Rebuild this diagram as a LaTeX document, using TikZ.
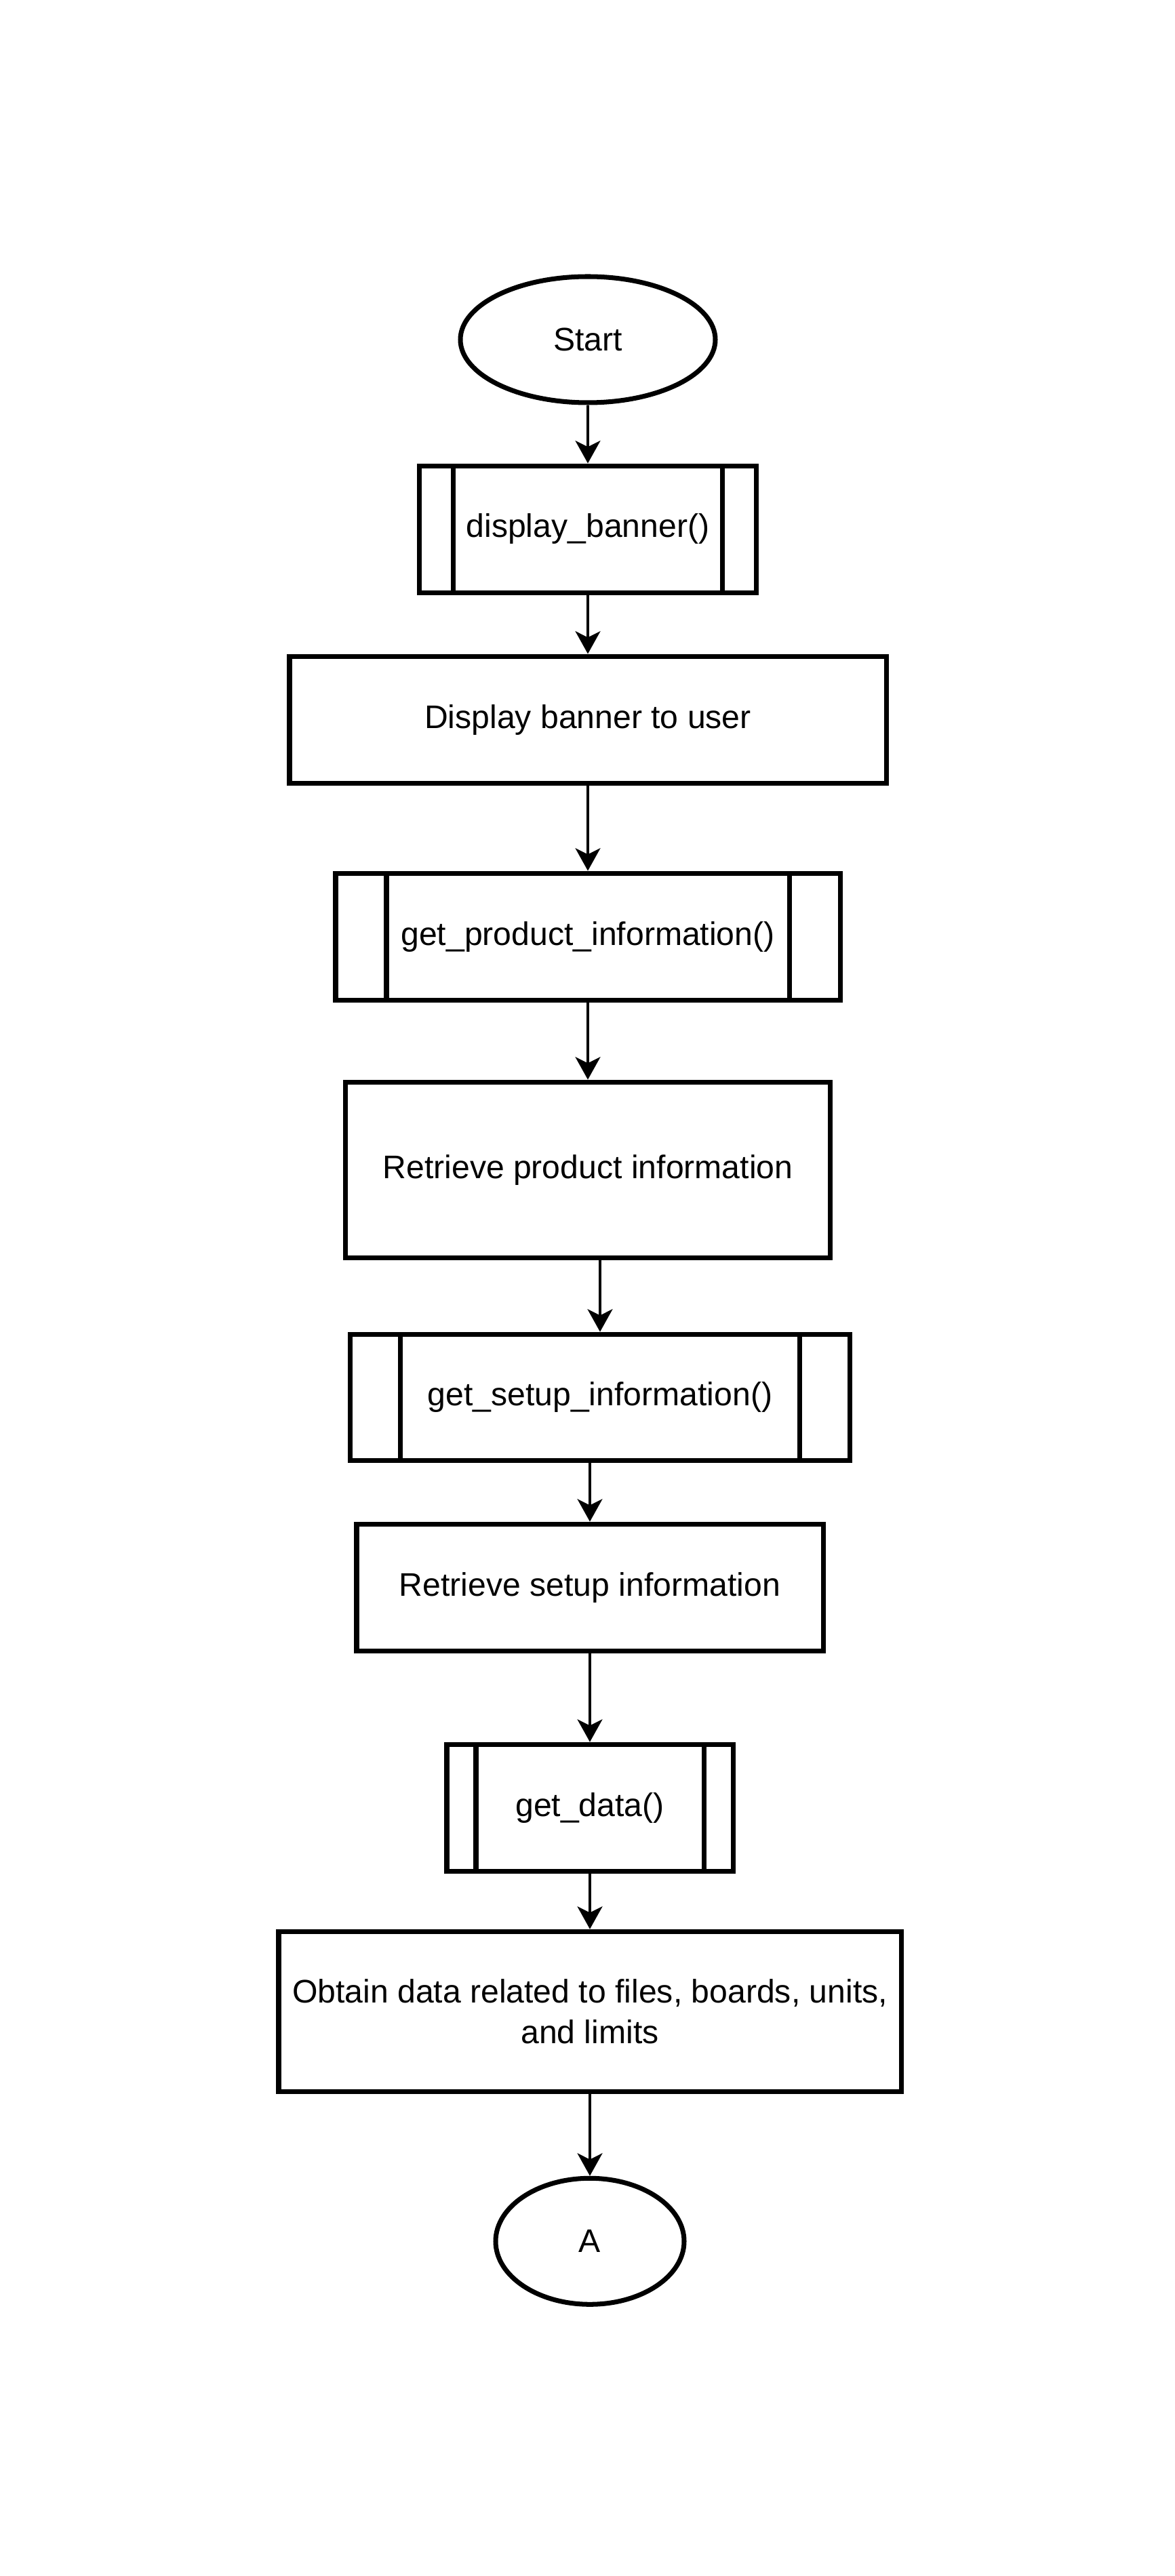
\documentclass[tikz,border=0pt]{standalone}
\usepackage{fontspec}
\setmainfont{Liberation Sans}
\usepackage{tikz}
\usetikzlibrary{shapes.geometric, arrows.meta, positioning, calc}
\tikzstyle{termbox}  = [ellipse, draw=black, line width=2pt, fill=white,
                        minimum width=3.76cm, minimum height=1.86cm,
                        inner sep=0pt, text centered,
                        font=\fontsize{13.7pt}{17pt}\selectfont]
\tikzstyle{procbox}  = [rectangle, draw=black, line width=2pt, fill=white,
                        minimum height=1.87cm, inner sep=0pt, text centered,
                        align=center, font=\fontsize{13.7pt}{17pt}\selectfont]
\tikzstyle{subproc}  = [procbox, path picture={
                          \draw[line width=2pt]
                            ([xshift=#1]path picture bounding box.north west) --
                            ([xshift=#1]path picture bounding box.south west)
                            ([xshift=-#1]path picture bounding box.north east) --
                            ([xshift=-#1]path picture bounding box.south east);}]
\tikzstyle{arr}      = [-{Stealth[length=9.5pt, width=10.5pt, inset=2.6pt]},
                        line width=1.1pt]

\begin{document}
\begin{tikzpicture}

  %% page frame
  \fill[white] (0,0) rectangle (17.32,-38.00);

  %% Flow (top to bottom)
  \node[termbox] (start) at (8.67,-5.01) {Start};
  \node[subproc=0.5cm, minimum width=4.97cm,
        below=0.86cm of start] (dban) {display\_banner()};
  \node[procbox, minimum width=8.80cm,
        below=0.87cm of dban] (showban) {Display banner to user};
  \node[subproc=0.75cm, minimum width=7.44cm,
        below=1.26cm of showban] (gprod) {get\_product\_information()};
  \node[procbox, minimum width=7.15cm, minimum height=2.59cm,
        below=1.14cm of gprod] (rprod) {Retrieve product information};
  \node[subproc=0.74cm, minimum width=7.37cm, minimum height=1.86cm,
        below=1.06cm of rprod, xshift=0.18cm] (gsetup) {get\_setup\_information()};
  \node[procbox, minimum width=6.88cm,
        below=0.87cm of gsetup, xshift=-0.15cm] (rsetup) {Retrieve setup information};
  \node[subproc=0.43cm, minimum width=4.22cm,
        below=1.31cm of rsetup] (gdata) {get\_data()};
  \node[procbox, minimum width=9.18cm, minimum height=2.36cm,
        below=0.82cm of gdata] (obtain)
      {Obtain data related to files, boards, units,\\and limits};
  \node[termbox, minimum width=2.78cm,
        below=1.21cm of obtain] (conA) {A};

  %% Connectors
  \draw[arr] (start) -- (dban);
  \draw[arr] (dban) -- (showban);
  \draw[arr] (showban) -- (gprod);
  \draw[arr] (gprod) -- (rprod);
  \draw[arr] (rprod.south -| gsetup.north) -- (gsetup.north);
  \draw[arr] (gsetup.south -| rsetup.north) -- (rsetup.north);
  \draw[arr] (rsetup) -- (gdata);
  \draw[arr] (gdata) -- (obtain);
  \draw[arr] (obtain) -- (conA);

\end{tikzpicture}
\end{document}
